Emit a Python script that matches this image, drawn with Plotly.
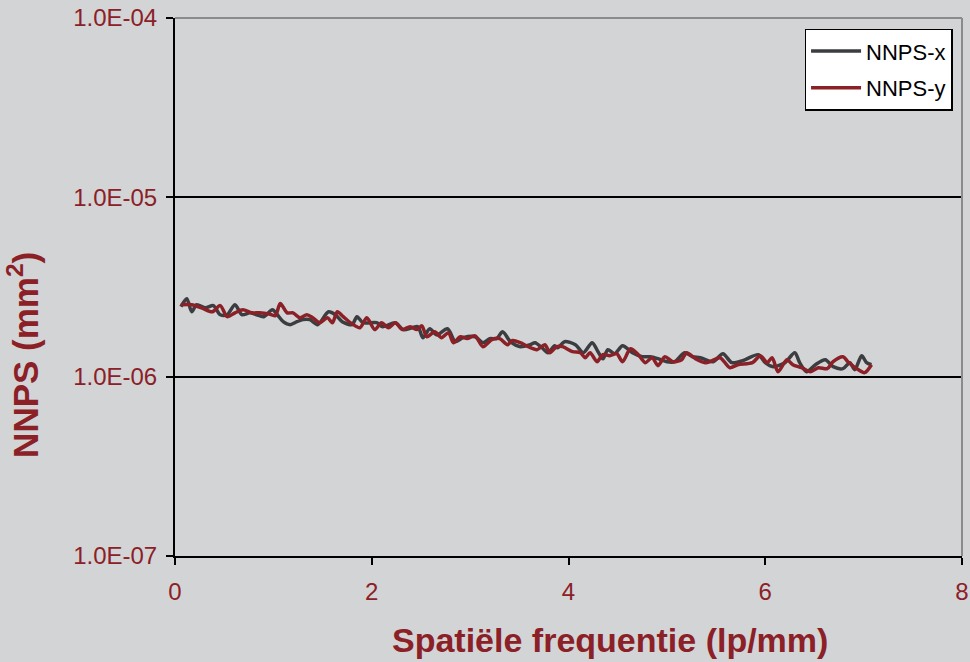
import plotly.graph_objects as go

# NNPS-x (lp/mm, mm^2)
fx_x = [0.06, 0.12, 0.17, 0.22, 0.31, 0.39, 0.46, 0.53, 0.61, 0.68, 0.76, 0.83, 0.90, 0.99, 1.04,
        1.10, 1.17, 1.24, 1.30, 1.37, 1.45, 1.56, 1.63, 1.70, 1.80, 1.85, 1.91, 2.05, 2.11, 2.24,
        2.32, 2.41, 2.47, 2.52, 2.59, 2.66, 2.77, 2.85, 2.93, 3.05, 3.13, 3.20, 3.27, 3.33, 3.41,
        3.51, 3.61, 3.66, 3.73, 3.79, 3.86, 3.89, 3.96, 4.07, 4.15, 4.24, 4.30, 4.35, 4.40, 4.47,
        4.55, 4.65, 4.75, 4.83, 4.91, 5.00, 5.08, 5.18, 5.26, 5.34, 5.47, 5.57, 5.66, 5.77, 5.93,
        6.00, 6.08, 6.20, 6.30, 6.35, 6.42, 6.51, 6.61, 6.69, 6.79, 6.86, 6.91, 6.98, 7.03, 7.08]
nnps_x = [2.455, 2.72, 2.30, 2.52, 2.42, 2.49, 2.215, 2.215, 2.52, 2.215, 2.27, 2.215, 2.16, 2.36, 2.215,
          2.025, 1.95, 2.025, 2.08, 2.08, 1.95, 2.30, 2.215, 2.025, 1.95, 2.16, 2.00, 2.00, 1.90, 2.00,
          1.83, 1.875, 1.90, 1.65, 1.85, 1.71, 1.85, 1.567, 1.65, 1.67, 1.547, 1.63, 1.63, 1.78, 1.567,
          1.47, 1.508, 1.547, 1.45, 1.36, 1.488, 1.45, 1.567, 1.508, 1.36, 1.547, 1.378, 1.26, 1.414, 1.343,
          1.488, 1.36, 1.292, 1.292, 1.26, 1.212, 1.212, 1.36, 1.292, 1.276, 1.212, 1.343, 1.197, 1.228, 1.326,
          1.197, 1.137, 1.197, 1.36, 1.197, 1.066, 1.166, 1.243, 1.137, 1.108, 1.197, 1.094, 1.309, 1.197, 1.166]

# NNPS-y
fx_y = [0.06, 0.17, 0.27, 0.38, 0.46, 0.53, 0.61, 0.69, 0.78, 0.86, 0.95, 1.02, 1.07, 1.14, 1.20,
        1.27, 1.34, 1.40, 1.47, 1.55, 1.60, 1.65, 1.71, 1.80, 1.88, 1.95, 2.03, 2.10, 2.17, 2.24,
        2.31, 2.39, 2.46, 2.51, 2.56, 2.64, 2.71, 2.78, 2.83, 2.90, 2.97, 3.05, 3.13, 3.22, 3.30,
        3.38, 3.43, 3.51, 3.59, 3.68, 3.76, 3.81, 3.88, 3.94, 4.04, 4.12, 4.17, 4.22, 4.29, 4.35,
        4.42, 4.49, 4.55, 4.63, 4.71, 4.78, 4.85, 4.91, 4.98, 5.06, 5.15, 5.20, 5.29, 5.39, 5.44,
        5.54, 5.64, 5.72, 5.87, 5.95, 6.02, 6.07, 6.13, 6.22, 6.28, 6.37, 6.46, 6.54, 6.63, 6.69,
        6.79, 6.84, 6.93, 7.01, 7.08]
nnps_y = [2.52, 2.52, 2.42, 2.30, 2.49, 2.16, 2.27, 2.36, 2.27, 2.27, 2.24, 2.19, 2.56, 2.27, 2.27,
          2.13, 2.215, 2.13, 2.00, 2.13, 2.00, 2.30, 2.16, 1.97, 1.875, 2.13, 1.83, 2.00, 1.875, 2.00,
          1.83, 1.90, 1.83, 1.92, 1.67, 1.78, 1.65, 1.76, 1.547, 1.67, 1.63, 1.69, 1.47, 1.61, 1.63,
          1.508, 1.59, 1.547, 1.47, 1.414, 1.508, 1.36, 1.47, 1.47, 1.378, 1.36, 1.276, 1.36, 1.212, 1.326,
          1.309, 1.343, 1.212, 1.43, 1.326, 1.197, 1.276, 1.152, 1.292, 1.212, 1.243, 1.36, 1.26, 1.197, 1.212,
          1.276, 1.122, 1.166, 1.197, 1.309, 1.197, 1.276, 1.066, 1.243, 1.166, 1.122, 1.066, 1.122, 1.108, 1.212,
          1.292, 1.212, 1.108, 1.053, 1.166]

y_tickvals = [1e-7, 1e-6, 1e-5, 1e-4]
y_ticktext = ["1.0E-07", "1.0E-06", "1.0E-05", "1.0E-04"]
x_tickvals = [0, 2, 4, 6, 8]

RED = "#8b2027"
DARK = "#3b3d40"
BG = "#d3d4d6"
FONT = "Liberation Sans, Arial, sans-serif"

fig = go.Figure()
fig.add_trace(go.Scatter(x=fx_x, y=[v * 1e-6 for v in nnps_x], mode="lines", name="NNPS-x",
                         line=dict(color=DARK, width=3.5, shape="spline", smoothing=0.8),
                         legendgroup="a"))
fig.add_trace(go.Scatter(x=fx_y, y=[v * 1e-6 for v in nnps_y], mode="lines", name="NNPS-y",
                         line=dict(color=RED, width=3.5, shape="spline", smoothing=0.8),
                         legendgroup="b"))

fig.update_layout(
    width=970, height=662,
    margin=dict(l=175, r=8, t=18, b=106),
    paper_bgcolor=BG, plot_bgcolor=BG,
    font=dict(family=FONT, color=RED, size=24),
    showlegend=True,
    legend=dict(x=0.988, y=0.98, xanchor="right", yanchor="top",
                bgcolor="white", bordercolor="black", borderwidth=1.5,
                font=dict(family=FONT, size=22, color="black"),
                traceorder="grouped", tracegroupgap=5,
                itemwidth=50),
    xaxis=dict(range=[0, 8], tickvals=x_tickvals, ticks="outside", ticklen=7,
               tickwidth=2, tickcolor="black", showline=True, linecolor="black",
               linewidth=2, showgrid=False, zeroline=False, automargin=False,
               tickfont=dict(family=FONT, size=24, color=RED), ticklabelstandoff=6),
    yaxis=dict(type="log", range=[-7, -4], tickvals=y_tickvals, ticktext=y_ticktext,
               ticks="outside", ticklen=7, tickwidth=2, tickcolor="black",
               showline=True, linecolor="black", linewidth=2, automargin=False,
               showgrid=True, gridcolor="black", gridwidth=1.5, zeroline=False,
               tickfont=dict(family=FONT, size=24, color=RED), ticklabelstandoff=4),
    shapes=[
        dict(type="line", xref="paper", yref="paper", x0=0, x1=1, y0=1, y1=1,
             line=dict(color="#8a8b8d", width=2)),
        dict(type="line", xref="paper", yref="paper", x0=1, x1=1, y0=0, y1=1,
             line=dict(color="#8a8b8d", width=2)),
    ],
    annotations=[
        dict(text="<b>Spatiële frequentie (lp/mm)</b>", xref="paper", yref="paper",
             x=0.553, y=-0.157, xanchor="center", yanchor="middle", showarrow=False,
             font=dict(family=FONT, size=34, color=RED)),
        dict(text="<b>NNPS (mm<sup>2</sup>)</b>", xref="paper", yref="paper",
             x=-0.193, y=0.374, xanchor="center", yanchor="middle", showarrow=False,
             textangle=-90, font=dict(family=FONT, size=35, color=RED)),
    ],
)

fig.write_html("out.html")
